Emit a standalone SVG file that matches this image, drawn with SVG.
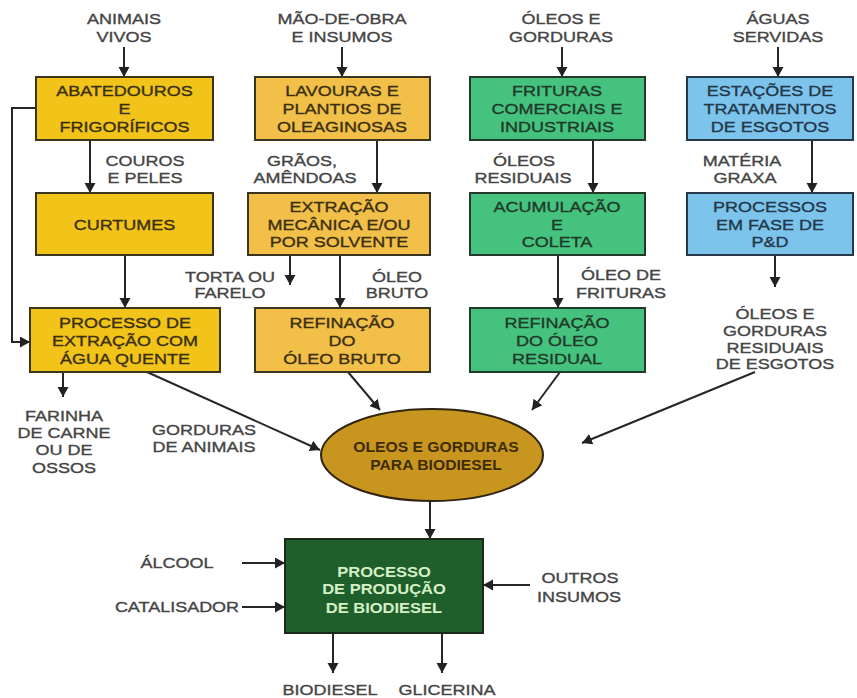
<svg xmlns="http://www.w3.org/2000/svg" width="857" height="698" viewBox="0 0 857 698">
<defs>
<marker id="ah" markerUnits="userSpaceOnUse" markerWidth="12" markerHeight="12" refX="10" refY="5.5" orient="auto">
<path d="M0,0 L10,5.5 L0,11 z" fill="#222"/>
</marker>
<style>
text{font-family:"Liberation Sans",Arial,sans-serif;font-size:15px;text-anchor:middle;transform-box:fill-box;transform-origin:center;transform:scaleX(1.2);stroke-width:0.35px}
.lb{fill:#454545;stroke:#454545}
.bx{fill:#3a3010;stroke:#3a3010}
.bb{fill:#24384a;stroke:#24384a}
.bg{fill:#1f3a28;stroke:#1f3a28}
.el{font-weight:bold;fill:#3d2c05;font-size:14px;transform:scaleX(1.12)}
.gr{font-weight:bold;fill:#d6efc6;transform:scaleX(1.1)}
.y1{fill:#f2c318;stroke:#3b3520;stroke-width:2}
.y2{fill:#f2bf48;stroke:#3b3520;stroke-width:2}
.g1{fill:#46c27f;stroke:#233a2a;stroke-width:2}
.b1{fill:#7dc4ec;stroke:#243a4a;stroke-width:2}
#edges path{fill:none;stroke:#262626;stroke-width:2;marker-end:url(#ah)}
</style>
</defs>
<rect width="857" height="698" fill="#fff"/>
<g id="edges">
<path d="M124,47 V77"/>
<path d="M342,47 V77"/>
<path d="M562,47 V77"/>
<path d="M778,47 V77"/>
<path d="M90,140 V193"/>
<path d="M377,140 V193"/>
<path d="M593,140 V193"/>
<path d="M812,140 V193"/>
<path d="M36,108 H12 V342 H30"/>
<path d="M125,255 V308"/>
<path d="M290,255 V285"/>
<path d="M340,255 V308"/>
<path d="M558,255 V308"/>
<path d="M775,255 V287"/>
<path d="M63,372 V397"/>
<path d="M147,372 L320,450"/>
<path d="M348,372 L380,410"/>
<path d="M560,372 L532,410"/>
<path d="M755,372 L582,443"/>
<path d="M430,500 V539"/>
<path d="M242,563 H285"/>
<path d="M242,607 H285"/>
<path d="M530,585 H483"/>
<path d="M333,633 V673"/>
<path d="M442,633 V673"/>
</g>
<g id="labels">
<text class="lb" x="124" y="24">ANIMAIS</text><text class="lb" x="124" y="42">VIVOS</text>
<text class="lb" x="342" y="24">MÃO-DE-OBRA</text><text class="lb" x="342" y="42">E INSUMOS</text>
<text class="lb" x="561" y="24">ÓLEOS E</text><text class="lb" x="561" y="42">GORDURAS</text>
<text class="lb" x="778" y="24">ÁGUAS</text><text class="lb" x="778" y="42">SERVIDAS</text>
<text class="lb" x="145" y="166">COUROS</text><text class="lb" x="145" y="183">E PELES</text>
<text class="lb" x="302" y="166">GRÃOS,</text><text class="lb" x="305" y="183">AMÊNDOAS</text>
<text class="lb" x="524" y="166">ÓLEOS</text><text class="lb" x="523" y="183">RESIDUAIS</text>
<text class="lb" x="742" y="166">MATÉRIA</text><text class="lb" x="745" y="183">GRAXA</text>
<text class="lb" x="230" y="282">TORTA OU</text><text class="lb" x="230" y="298">FARELO</text>
<text class="lb" x="397" y="282">ÓLEO</text><text class="lb" x="397" y="298">BRUTO</text>
<text class="lb" x="621" y="280">ÓLEO DE</text><text class="lb" x="621" y="298">FRITURAS</text>
<text class="lb" x="775" y="319">ÓLEOS E</text><text class="lb" x="775" y="336">GORDURAS</text><text class="lb" x="775" y="353">RESIDUAIS</text><text class="lb" x="775" y="369">DE ESGOTOS</text>
<text class="lb" x="64" y="421">FARINHA</text><text class="lb" x="64" y="438">DE CARNE</text><text class="lb" x="64" y="455">OU DE</text><text class="lb" x="64" y="473">OSSOS</text>
<text class="lb" x="204" y="435">GORDURAS</text><text class="lb" x="204" y="452">DE ANIMAIS</text>
<text class="lb" x="177" y="568">ÁLCOOL</text>
<text class="lb" x="177" y="612">CATALISADOR</text>
<text class="lb" x="580" y="583">OUTROS</text><text class="lb" x="579" y="602">INSUMOS</text>
<text class="lb" x="330" y="695">BIODIESEL</text>
<text class="lb" x="447" y="695">GLICERINA</text>
</g>
<g id="abatedouros"><rect class="y1" x="36" y="77" width="177" height="63"/>
<text class="bx" x="124.5" y="96">ABATEDOUROS</text><text class="bx" x="124.5" y="114">E</text><text class="bx" x="124.5" y="132">FRIGORÍFICOS</text></g>
<g id="lavouras"><rect class="y2" x="255" y="77" width="175" height="63"/>
<text class="bx" x="342" y="96">LAVOURAS E</text><text class="bx" x="342" y="114">PLANTIOS DE</text><text class="bx" x="342" y="132">OLEAGINOSAS</text></g>
<g id="frituras"><rect class="g1" x="470" y="77" width="175" height="63"/>
<text class="bg" x="557" y="96">FRITURAS</text><text class="bg" x="557" y="114">COMERCIAIS E</text><text class="bg" x="557" y="132">INDUSTRIAIS</text></g>
<g id="estacoes"><rect class="b1" x="687" y="77" width="166" height="63"/>
<text class="bb" x="770" y="96">ESTAÇÕES DE</text><text class="bb" x="770" y="114">TRATAMENTOS</text><text class="bb" x="770" y="132">DE ESGOTOS</text></g>
<g id="curtumes"><rect class="y1" x="36" y="193" width="177" height="62"/>
<text class="bx" x="124.5" y="230">CURTUMES</text></g>
<g id="extracao"><rect class="y2" x="248" y="193" width="182" height="62"/>
<text class="bx" x="339" y="212">EXTRAÇÃO</text><text class="bx" x="339" y="230">MECÂNICA E/OU</text><text class="bx" x="339" y="247">POR SOLVENTE</text></g>
<g id="acumulacao"><rect class="g1" x="470" y="193" width="175" height="62"/>
<text class="bg" x="557" y="212">ACUMULAÇÃO</text><text class="bg" x="557" y="230">E</text><text class="bg" x="557" y="247">COLETA</text></g>
<g id="processos"><rect class="b1" x="687" y="193" width="166" height="62"/>
<text class="bb" x="770" y="212">PROCESSOS</text><text class="bb" x="770" y="230">EM FASE DE</text><text class="bb" x="770" y="247">P&amp;D</text></g>
<g id="agua-quente"><rect class="y1" x="30" y="308" width="190" height="64"/>
<text class="bx" x="125" y="328">PROCESSO DE</text><text class="bx" x="125" y="346">EXTRAÇÃO COM</text><text class="bx" x="125" y="364">ÁGUA QUENTE</text></g>
<g id="refinacao-bruto"><rect class="y2" x="255" y="308" width="175" height="64"/>
<text class="bx" x="342" y="328">REFINAÇÃO</text><text class="bx" x="342" y="346">DO</text><text class="bx" x="342" y="364">ÓLEO BRUTO</text></g>
<g id="refinacao-residual"><rect class="g1" x="470" y="308" width="175" height="64"/>
<text class="bg" x="557" y="328">REFINAÇÃO</text><text class="bg" x="557" y="346">DO ÓLEO</text><text class="bg" x="557" y="364">RESIDUAL</text></g>
<g id="oleos-gorduras"><ellipse cx="432" cy="455" rx="111" ry="46" fill="#c8961e" stroke="#2e2410" stroke-width="2"/>
<text class="el" x="436" y="452">OLEOS E GORDURAS</text><text class="el" x="436" y="470">PARA BIODIESEL</text></g>
<g id="producao"><rect x="285" y="539" width="198" height="94" fill="#1f5f2c" stroke="#1a2a1a" stroke-width="2"/>
<text class="gr" x="384" y="577">PROCESSO</text><text class="gr" x="384" y="594">DE PRODUÇÃO</text><text class="gr" x="384" y="613">DE BIODIESEL</text></g>
</svg>
